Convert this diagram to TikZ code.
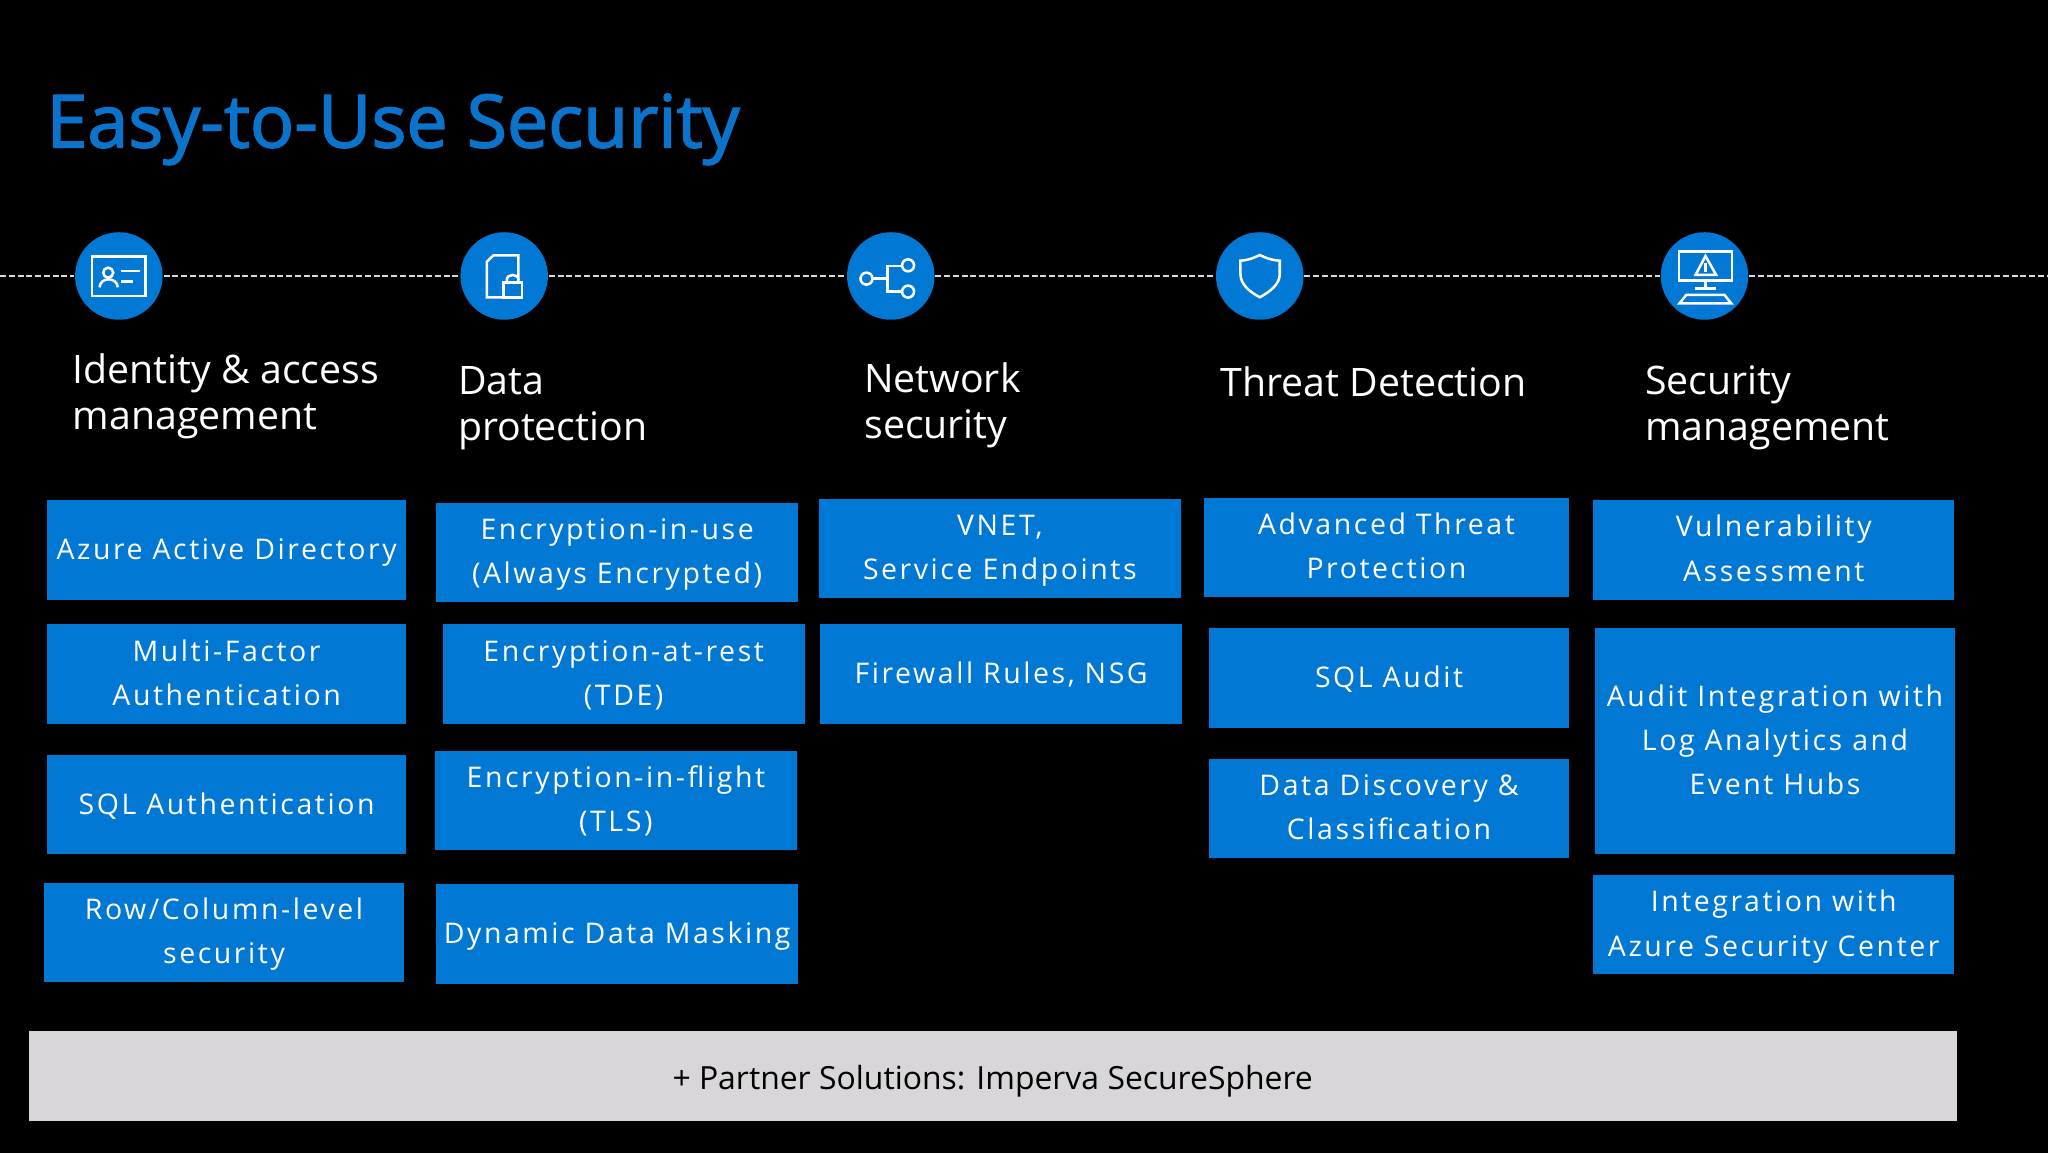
\documentclass[tikz,border=0pt]{standalone}
\usepackage{fontspec}
\setmainfont{Open Sans}
\newfontfamily\tilefont[LetterSpace=9]{Open Sans}
\newfontfamily\titlefont[FakeBold=2]{Open Sans}
\definecolor{msblue}{HTML}{0078D4}
\definecolor{titleblue}{HTML}{0A74CC}
\definecolor{barGrey}{HTML}{D8D6D9}
\tikzset{
  iconDisc/.style={circle,fill=msblue,minimum size=0.67cm,inner sep=0},
  iconLine/.style={draw=white,line width=0.55pt,fill=none},
  dashLine/.style={draw=white!85!black,line width=0.5pt,dash pattern=on 0.046cm off 0.021cm},
  evenText/.style={execute at begin node={\rule{0pt}{#1}},execute at end node={\rule[-0.3em]{0pt}{0pt}}},
  tile/.style={fill=msblue,text=white,minimum width=2.76cm,minimum height=0.76cm,inner sep=0,align=center,
    font=\tilefont\fontsize{6.2}{9.64}\selectfont},
  oneLine/.style={tile,evenText=1em},
  twoLine/.style={tile,evenText=15.5pt},
  threeLine/.style={tile,evenText=25.2pt},
  heading/.style={text=white,anchor=west,inner sep=0,align=left,font=\fontsize{8.55}{9.95}\selectfont}
}

\begin{document}
\begin{tikzpicture}[y=-1cm]
  \fill[black] (0,0) rectangle (15.68,8.828);
  \useasboundingbox (0,0) rectangle (15.68,8.828);

  % Title
  \node[text=titleblue,anchor=west,inner sep=0,font=\titlefont\fontsize{16}{18}\selectfont] (title) at (0.35,0.99) {Easy-to-Use Security};

  % Icon row
  \coordinate (lineL) at (0,2.113);
  \coordinate (lineR) at (15.68,2.113);
  \node[iconDisc] (idIcon) at (0.91,2.113) {};
  \node[iconDisc] (dataIcon) at (3.86,2.113) {};
  \node[iconDisc] (netIcon) at (6.82,2.113) {};
  \node[iconDisc] (threatIcon) at (9.645,2.113) {};
  \node[iconDisc] (mgmtIcon) at (13.05,2.113) {};
  \draw[dashLine] (lineL) -- (idIcon);
  \draw[dashLine] (idIcon) -- (dataIcon);
  \draw[dashLine] (dataIcon) -- (netIcon);
  \draw[dashLine] (netIcon) -- (threatIcon);
  \draw[dashLine] (threatIcon) -- (mgmtIcon);
  \draw[dashLine] (mgmtIcon) -- (lineR);

  % Card
  \begin{scope}[shift={(idIcon)},x=0.00255cm,y=-0.00255cm,iconLine]
    \draw (-80,-58) rectangle (80,60);
    \draw (-32,-10) circle (15);
    \draw (-58,34) .. controls (-56,2) and (-6,2) .. (-3,34);
    \draw (7,-15) -- (64,-15);
    \draw (7,16) -- (42,16);
  \end{scope}
  % Locked file
  \begin{scope}[shift={(dataIcon)},x=0.00255cm,y=-0.00255cm,iconLine]
    \draw (-7,64) -- (-52,64) -- (-52,-43) -- (-32,-62) -- (43,-62) -- (43,12);
    \draw (-2,20) rectangle (53,64);
    \draw (8,20) -- (8,12) .. controls (8,-8) and (43,-8) .. (43,12) -- (43,20);
  \end{scope}
  % Branches
  \begin{scope}[shift={(netIcon)},x=0.00255cm,y=-0.00255cm,iconLine]
    \draw (-73,8) circle (18);
    \draw (52,-32) circle (18);
    \draw (52,47) circle (18);
    \draw (-55,8) -- (-10,8);
    \draw (34,-30) -- (-10,-30) -- (-10,47) -- (34,47);
  \end{scope}
  % Shield
  \begin{scope}[shift={(threatIcon)},x=0.00255cm,y=-0.00255cm,iconLine]
    \draw (-58,-46) .. controls (-30,-48) and (-15,-56) .. (0,-63)
      .. controls (15,-56) and (30,-48) .. (60,-46) -- (60,-5)
      .. controls (60,25) and (30,48) .. (0,64)
      .. controls (-30,48) and (-58,25) .. (-58,-5) -- cycle;
  \end{scope}
  % Monitor
  \begin{scope}[shift={(mgmtIcon)},x=0.00255cm,y=-0.00255cm,iconLine]
    \draw (-77,-74) rectangle (82,14);
    \draw (3,-60) -- (-27,-3) -- (35,-3) -- cycle;
    \draw (3,-38) -- (3,-13);
    \draw (3,14) -- (3,37);
    \draw (-28,37) -- (33,37);
    \draw (-75,82) -- (-55,57) -- (60,57) -- (80,82) -- cycle;
  \end{scope}

  % Headings
  \node[heading] (idHead) at (0.55,3.035) {Identity \& access\\management};
  \node[heading] (dataHead) at (3.50,3.125) {Data\\protection};
  \node[heading] (netHead) at (6.61,3.105) {Network\\security};
  \node[heading] (threatHead) at (9.34,2.92) {Threat Detection};
  \node[heading] (mgmtHead) at (12.59,3.12) {Security\\management};

  % Identity column
  \node[oneLine,minimum width=2.75cm] (azure) at (1.735,4.21) {Azure Active Directory};
  \node[twoLine,minimum width=2.75cm] (mfa) at (1.735,5.16) {Multi-Factor\\Authentication};
  \node[oneLine,minimum width=2.75cm] (sqlAuth) at (1.735,6.16) {SQL Authentication};
  \node[twoLine,minimum width=2.75cm] (rowLevel) at (1.715,7.14) {Row/Column-level\\security};

  % Data column
  \node[twoLine,minimum width=2.77cm] (encUse) at (4.725,4.23) {Encryption-in-use\\(Always Encrypted)};
  \node[twoLine,minimum width=2.77cm] (encRest) at (4.775,5.16) {Encryption-at-rest\\(TDE)};
  \node[twoLine,minimum width=2.77cm] (encFlight) at (4.715,6.13) {Encryption-in-flight\\(TLS)};
  \node[oneLine,minimum width=2.77cm] (masking) at (4.725,7.15) {Dynamic Data Masking};

  % Network column
  \node[twoLine,minimum width=2.77cm] (vnet) at (7.655,4.20) {VNET,\\Service Endpoints};
  \node[oneLine,minimum width=2.77cm] (firewall) at (7.665,5.16) {Firewall Rules, NSG};

  % Threat column
  \node[twoLine,minimum width=2.79cm] (atp) at (10.615,4.19) {Advanced Threat\\Protection};
  \node[oneLine,minimum width=2.75cm] (sqlAudit) at (10.635,5.19) {SQL Audit};
  \node[twoLine,minimum width=2.75cm] (discovery) at (10.635,6.19) {Data Discovery \&\\Classification};

  % Management column
  \node[twoLine] (vuln) at (13.58,4.21) {Vulnerability\\Assessment};
  \node[threeLine,minimum height=1.73cm] (auditInt) at (13.59,5.675) {Audit Integration with\\Log Analytics and\\Event Hubs};
  \node[twoLine] (secCenter) at (13.58,7.08) {Integration with\\Azure Security Center};

  % Partner bar
  \node[fill=barGrey,text=black,minimum width=14.76cm,minimum height=0.69cm,inner sep=0,evenText=1.16em,font=\fontsize{6.95}{9}\selectfont] (partner) at (7.60,8.24) {+ Partner Solutions: Imperva SecureSphere};
\end{tikzpicture}
\end{document}
